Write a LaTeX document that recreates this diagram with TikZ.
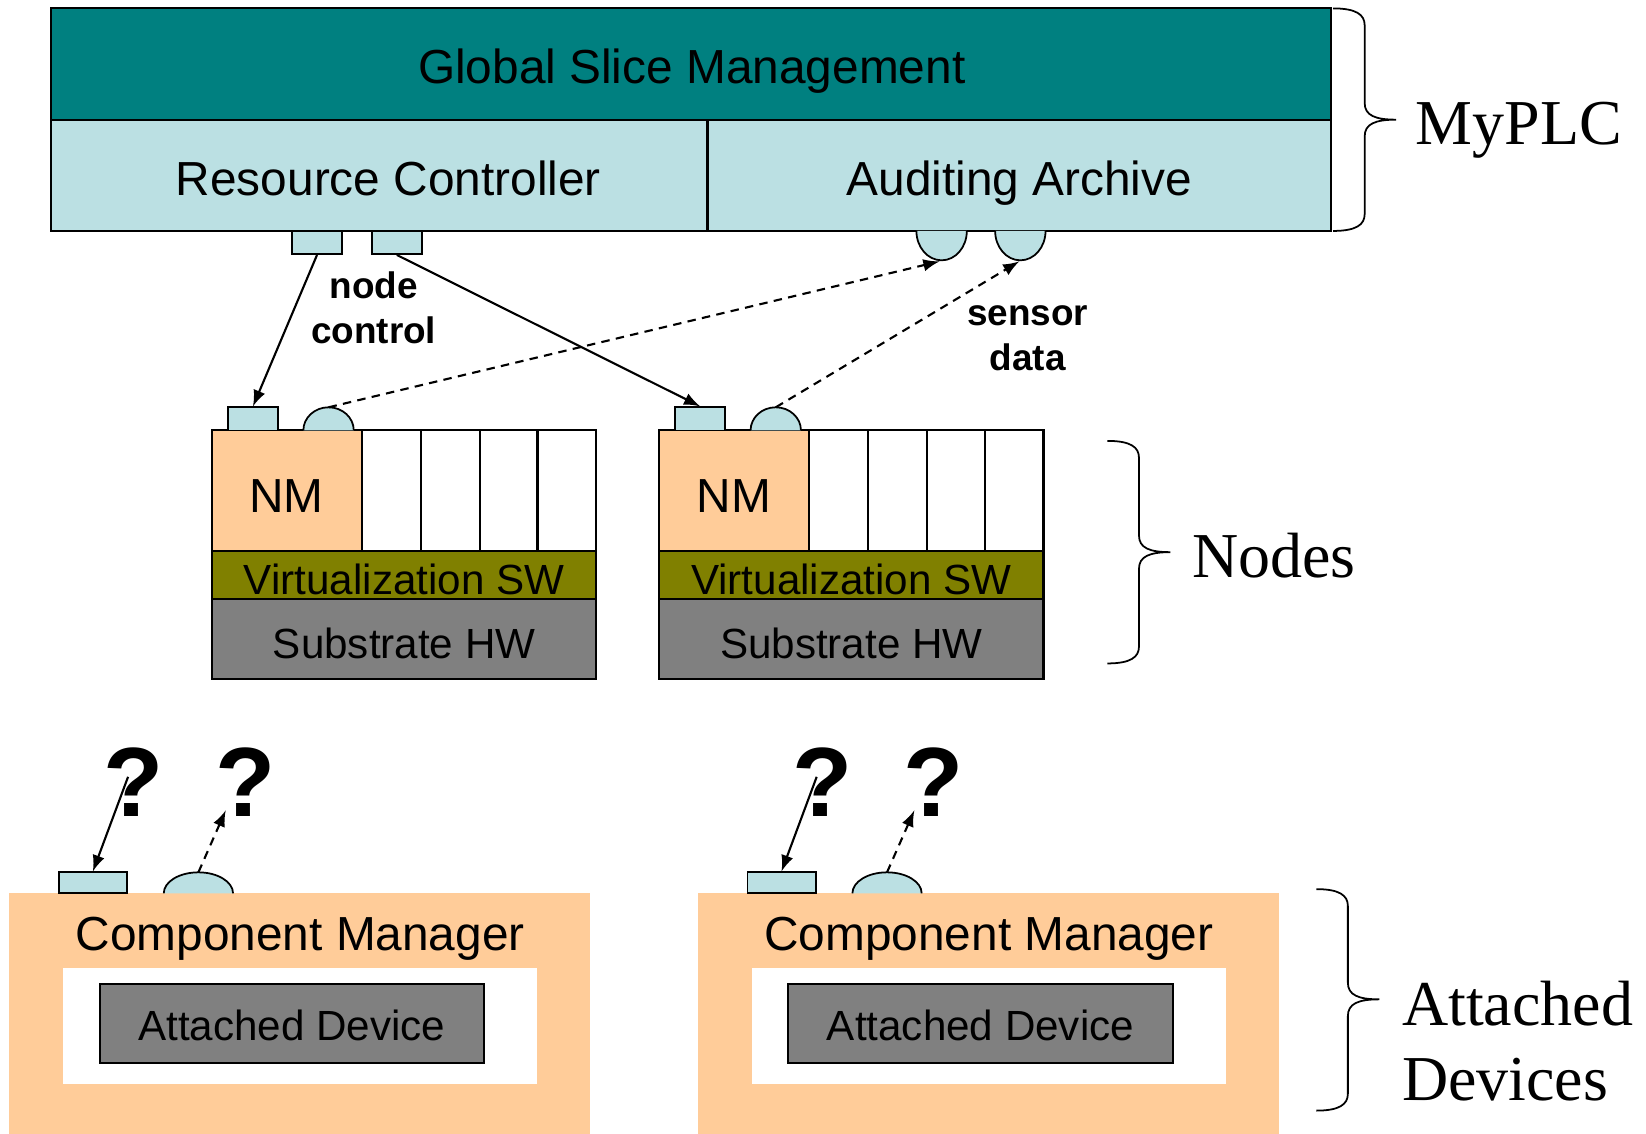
\documentclass[tikz,border=0pt]{standalone}
\usepackage{fontspec}
\setmainfont{Liberation Serif}
\setsansfont{Liberation Sans}

\definecolor{gsmteal}{HTML}{008080}
\definecolor{ctlblue}{HTML}{BBE0E3}
\definecolor{nmpeach}{HTML}{FFCC99}
\definecolor{virtolive}{HTML}{808000}
\definecolor{hwgray}{HTML}{808080}

\begin{document}
\begin{tikzpicture}[x=0.10497mm,y=-0.10497mm,
  box/.style={draw=black,line width=0.6pt},
  ctlport/.style={draw=black,fill=ctlblue,line width=0.5pt,inner sep=0pt,minimum width=14.3pt,minimum height=6.6pt},
  cmport/.style={ctlport,minimum width=19.4pt,minimum height=6pt},
  dome/.style={draw=black,fill=ctlblue,line width=0.5pt},
  lbl/.style={font=\sffamily\fontsize{13.6}{16}\selectfont,inner sep=0pt,anchor=base},
  slbl/.style={font=\sffamily\fontsize{12}{14}\selectfont,inner sep=0pt,anchor=base},
  flowlbl/.style={font=\sffamily\bfseries\fontsize{10.5}{12.8}\selectfont,align=center,inner sep=0pt},
  qm/.style={font=\sffamily\bfseries\fontsize{28}{30}\selectfont,inner sep=0pt,anchor=base},
  grp/.style={font=\fontsize{18.2}{21.5}\selectfont,inner sep=0pt,anchor=base west},
  brc/.style={draw=black,line width=0.5pt},
  ctl/.style={-latex,line width=0.6pt},
  dat/.style={-latex,dashed,dash pattern=on 2.4pt off 1.8pt,line width=0.6pt}]
\useasboundingbox (0,0) rectangle (1568,1080);

% MyPLC
\draw[box,fill=gsmteal] (49,8) rectangle (1268,114);
\draw[box,fill=ctlblue] (49,114) rectangle (674,220);
\draw[box,fill=ctlblue] (674,114) rectangle (1268,220);
\node[lbl] (gsm) at (659,80) {Global Slice Management};
\node[lbl] (rc) at (370,186) {Resource Controller};
\node[lbl] (aa) at (971,186) {Auditing Archive};

\node[ctlport] (rcA) at (302,231) {};
\node[ctlport] (rcB) at (378,231) {};
\draw[dome] (873,220) arc[start angle=180,end angle=0,x radius=24,y radius=28];
\draw[dome] (948,220) arc[start angle=180,end angle=0,x radius=24,y radius=28];
\coordinate (aaA) at (895,249);
\coordinate (aaB) at (971,249);

% nodes
\foreach \o/\n in {0/1,426/2} {
  \draw[box,fill=nmpeach] (\o+202,410) rectangle (\o+345,525);
  \foreach \s in {345,401,457,512}
    \draw[box,fill=white] (\o+\s,410) rectangle (\o+\s+56,525);
  \draw[box,fill=virtolive] (\o+202,525) rectangle (\o+568,571);
  \draw[box,fill=hwgray] (\o+202,571) rectangle (\o+568,647);
  \node[lbl] (nm\n) at (\o+273,488) {NM};
  \node[slbl] (vsw\n) at (\o+385,566) {Virtualization SW};
  \node[slbl] (shw\n) at (\o+385,627) {Substrate HW};
  \node[ctlport] (nmctl\n) at (\o+241,399) {};
  \draw[dome] (\o+289,410) arc[start angle=180,end angle=360,x radius=24,y radius=22];
  \coordinate (nmdat\n) at (\o+313,388);
}

\draw[ctl] (rcA.south) -- (nmctl1.north);
\draw[ctl] (rcB.south) -- (nmctl2.north);
\draw[dat] (nmdat1) -- (aaA);
\draw[dat] (nmdat2) -- (aaB);
\node[flowlbl] (ctltxt) at (356,293) {node\\control};
\node[flowlbl] (dattxt) at (979,322) {sensor\\data};

% attached devices
\foreach \o/\n in {0/1,656/2} {
  \fill[nmpeach] (\o+9,851) rectangle (\o+562,1080);
  \fill[white] (\o+60,922) rectangle (\o+512,1033);
  \draw[box,fill=hwgray] (\o+95,937) rectangle (\o+461,1013);
  \node[lbl] (cm\n) at (\o+286,905) {Component Manager};
  \node[slbl] (ad\n) at (\o+278,991) {Attached Device};
  \node[cmport] (cmctl\n) at (\o+88.5,841) {};
  \draw[dome] (\o+156,851) arc[start angle=180,end angle=360,x radius=33,y radius=20];
  \coordinate (cmdat\n) at (\o+189,831);
  \node[qm] (qA\n) at (\o+127.5,778) {?};
  \node[qm] (qB\n) at (\o+233.5,778) {?};
  \coordinate (qAstart\n) at (\o+122,740);
  \coordinate (qBend\n) at (\o+215,772);
  \draw[ctl] (qAstart\n) -- (cmctl\n.north);
  \draw[dat] (cmdat\n) -- (qBend\n);
}

% braces
\foreach \bx/\bt/\bm/\bb in {1270/8/114/220,1055/420/526/632,1254/847/952/1058}
  \draw[brc] (\bx,\bt) .. controls (\bx+22,\bt) and (\bx+30,\bt+6) .. (\bx+30,\bt+16)
    -- (\bx+30,\bm-16) .. controls (\bx+30,\bm-4) and (\bx+40,\bm) .. (\bx+60,\bm)
    .. controls (\bx+40,\bm) and (\bx+30,\bm+4) .. (\bx+30,\bm+16)
    -- (\bx+30,\bb-16) .. controls (\bx+30,\bb-6) and (\bx+22,\bb) .. (\bx,\bb);
\node[grp] (plc) at (1348,138) {MyPLC};
\node[grp] (nds) at (1135,550) {Nodes};
\node[grp] (atd) at (1335,977) {Attached};
\node[grp] (atd2) at (1335,1048) {Devices};
\end{tikzpicture}
\end{document}
